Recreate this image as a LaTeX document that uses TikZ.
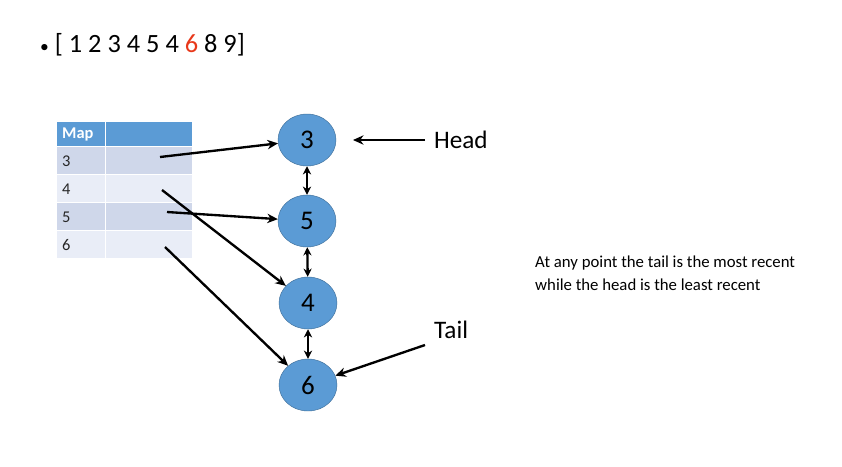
\documentclass[tikz,border=0pt]{standalone}
\usepackage{fontspec}
\setmainfont{Carlito}
\usetikzlibrary{shapes.geometric}
\usetikzlibrary{arrows.meta}

\definecolor{nodeblue}{HTML}{5B9BD5}
\definecolor{nodeedge}{HTML}{41719C}
\definecolor{headblue}{HTML}{5B9BD5}
\definecolor{rowdark}{HTML}{CFD7EA}
\definecolor{rowlight}{HTML}{E9EDF7}
\definecolor{hitred}{HTML}{E8381A}

\begin{document}
\begin{tikzpicture}[
    x=0.03cm, y=-0.03cm,
    list node/.style={ellipse,fill=nodeblue,draw=nodeedge,minimum width=58*0.03cm,minimum height=52*0.03cm,inner sep=0pt,font=\fontsize{23}{27}\selectfont},
    cell/.style={draw=white,line width=1pt,inner sep=0pt,anchor=north west,minimum height=28*0.03cm},
    cell text/.style={anchor=west,inner sep=0pt,font=\fontsize{14}{16}\selectfont,text=black!85},
    link/.style={line width=2pt,-{Stealth[length=9pt,width=8pt]}},
    both/.style={line width=2pt,{Stealth[length=7pt,width=7pt]}-{Stealth[length=7pt,width=7pt]}},
    ]
  \useasboundingbox[fill=white] (0,0) rectangle (842,466);

  \node[anchor=west,font=\fontsize{22.5}{26}\selectfont] (seq) at (36,45)
    {{\fontsize{15}{15}\selectfont\textbullet}\ [ 1 2 3 4 5 4 \textcolor{hitred}{6} 8 9]};

  % map table
  \node[cell,fill=headblue,minimum width=49*0.03cm,minimum height=25*0.03cm] (mapkey) at (56,121) {};
  \node[cell,fill=headblue,minimum width=87*0.03cm,minimum height=25*0.03cm] (mapval) at (105,121) {};
  \node[cell text,text=white,font=\fontsize{14}{16}\selectfont\bfseries] (maptitle) at (62,134) {Map};

  \node[cell,fill=rowdark,minimum width=49*0.03cm] (key3) at (56,146) {};
  \node[cell,fill=rowdark,minimum width=87*0.03cm] (val3) at (105,146) {};
  \node[cell,fill=rowlight,minimum width=49*0.03cm] (key4) at (56,174) {};
  \node[cell,fill=rowlight,minimum width=87*0.03cm] (val4) at (105,174) {};
  \node[cell,fill=rowdark,minimum width=49*0.03cm] (key5) at (56,202) {};
  \node[cell,fill=rowdark,minimum width=87*0.03cm] (val5) at (105,202) {};
  \node[cell,fill=rowlight,minimum width=49*0.03cm] (key6) at (56,230) {};
  \node[cell,fill=rowlight,minimum width=87*0.03cm] (val6) at (105,230) {};

  \node[cell text] (k3) at (62,161) {3};
  \node[cell text] (k4) at (62,189) {4};
  \node[cell text] (k5) at (62,217) {5};
  \node[cell text] (k6) at (62,245) {6};

  \coordinate (from3) at (160,157);
  \coordinate (from4) at (162,190);
  \coordinate (from5) at (167,212);
  \coordinate (from6) at (165,247);

  % linked list
  \node[list node] (n3) at (307,140) {3};
  \node[list node] (n5) at (307,221) {5};
  \node[list node] (n4) at (308,303) {4};
  \node[list node] (n6) at (308,385) {6};

  \draw[both] (n3) -- (n5);
  \draw[both] (n5) -- (n4);
  \draw[both] (n4) -- (n6);

  \draw[link] (from3) -- (n3);
  \draw[link] (from5) -- (n5);
  \draw[link] (from4) -- (n4);
  \draw[link] (from6) -- (n6);

  % labels
  \node[anchor=west,font=\fontsize{21.5}{25}\selectfont] (head) at (430,140) {Head};
  \node[anchor=west,font=\fontsize{21.5}{25}\selectfont] (tail) at (430,330) {Tail};
  \coordinate (headend) at (425,140);
  \coordinate (tailend) at (425,345);
  \draw[link] (headend) -- (353,140) coordinate (headtip);
  \draw[link] (tailend) -- (n6);

  \node[anchor=north west,align=left,inner sep=0pt,font=\fontsize{14.3}{19}\selectfont] (note) at (535,256)
    {At any point the tail is the most recent\\while the head is the least recent};
\end{tikzpicture}
\end{document}
